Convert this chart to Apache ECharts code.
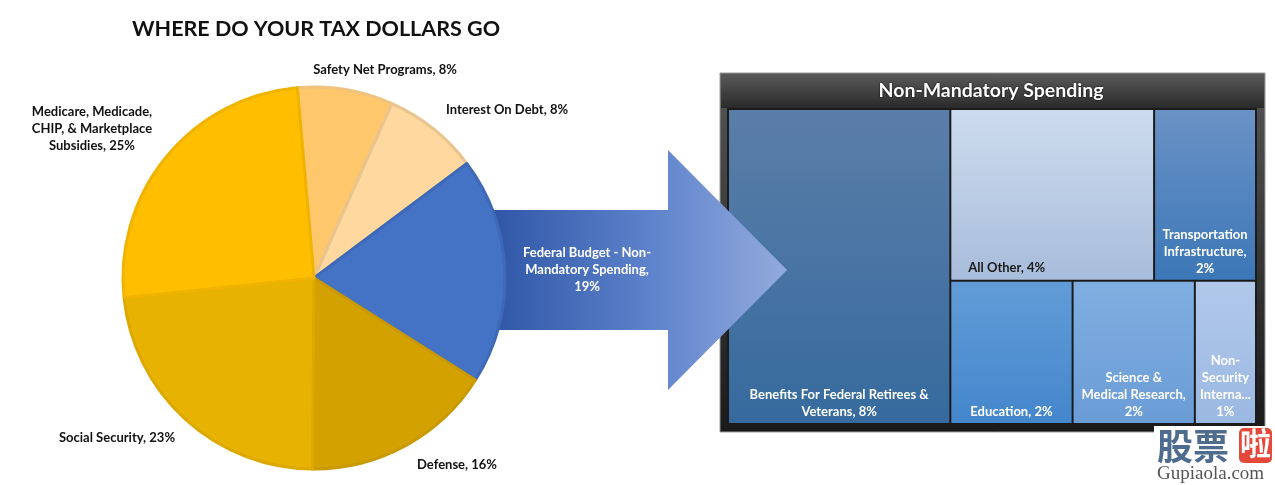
<!DOCTYPE html>
<html><head><meta charset="utf-8">
<script src="https://cdn.jsdelivr.net/npm/echarts@6/dist/echarts.min.js"></script>
<style>html,body{margin:0;padding:0;background:#fff}#c{width:1275px;height:485px}</style>
</head><body><div id="c"></div>
<script>
// ---- data ----
const pieCategories = ['Safety Net Programs', 'Interest On Debt', 'Federal Budget - Non-Mandatory Spending', 'Defense', 'Social Security', 'Medicare, Medicade, CHIP, & Marketplace Subsidies'];
const pieValues = [8, 8, 19, 16, 23, 25];
const pieLabelTexts = ['Safety Net Programs, 8%', 'Interest On Debt, 8%', 'Federal Budget - Non-\nMandatory Spending,\n19%', 'Defense, 16%', 'Social Security, 23%', 'Medicare, Medicade,\nCHIP, & Marketplace\nSubsidies, 25%'];
const treeCategories = ['Benefits For Federal Retirees & Veterans', 'All Other', 'Transportation Infrastructure', 'Education', 'Science & Medical Research', 'Non-Security International'];
const treeValues = [8, 4, 2, 2, 2, 1];
const treeLabelTexts = ['Benefits For Federal Retirees &\nVeterans, 8%', 'All Other, 4%', 'Transportation\nInfrastructure,\n2%', 'Education, 2%', 'Science &\nMedical Research,\n2%', 'Non-\nSecurity\nInterna...\n1%'];
const mainTitle = 'WHERE DO YOUR TAX DOLLARS GO';
const treeTitle = 'Non-Mandatory Spending';

// ---- styles ----
const FONT = "Lato, 'Noto Sans', sans-serif";
const pieColors = ['#FFC76B', '#FFD8A0', '#4472C4', '#D4A200', '#E8B300', '#FFBF00'];
const pieBorders = ['#EFC27E', '#EAC48E', '#3E69B6', '#C99A00', '#DDA900', '#F0B400'];
const pieLabelPos = [[385, 70], [507, 110], [587, 270], [457, 465], [117, 438], [92, 129]];
const pieLabelColor = ['#111', '#111', '#fff', '#111', '#111', '#111'];
const treeGrad = [['#5B7EA8', '#366A9E'], ['#CDDBEE', '#A8BDDB'], ['#6A92C6', '#3C77B7'], ['#619CD7', '#4486CC'], ['#80AEE1', '#6A9CD6'], ['#B1C8EA', '#9BB8E2']];
const treeLabelColor = ['#fff', '#1a1a1a', '#fff', '#fff', '#fff', '#fff'];

function vgrad(a, b) {
  return new echarts.graphic.LinearGradient(0, 0, 0, 1, [{offset: 0, color: a}, {offset: 1, color: b}]);
}

const chart = echarts.init(document.getElementById('c'), null, {renderer: 'canvas'});

const pieData = pieCategories.map((n, i) => ({
  name: n, value: pieValues[i],
  itemStyle: {color: pieColors[i], borderColor: pieBorders[i], borderWidth: 3},
  label: {color: pieLabelColor[i]}
}));

const treeData = treeCategories.map((n, i) => ({
  name: n, value: treeValues[i],
  itemStyle: {color: vgrad(treeGrad[i][0], treeGrad[i][1])},
  label: i === 1
    ? {position: 'insideBottomLeft', distance: 9, offset: [3, 10], align: 'left', color: treeLabelColor[i], formatter: () => treeLabelTexts[i]}
    : {color: treeLabelColor[i], formatter: () => treeLabelTexts[i]}
}));

chart.setOption({
  animation: false,
  title: {
    text: mainTitle, left: 311, top: 13, textAlign: 'center',
    textStyle: {fontFamily: FONT, fontSize: 21.5, fontWeight: 'bold', color: '#111'}
  },
  graphic: [
    { // arrow
      type: 'polygon', z: 5,
      shape: {points: [[490, 210], [668, 210], [668, 150], [787, 270], [668, 390], [668, 330], [490, 330]]},
      style: {fill: new echarts.graphic.LinearGradient(0, 0, 1, 0, [{offset: 0, color: '#2E56A6'}, {offset: 0.55, color: '#5F83CC'}, {offset: 1, color: '#93ABDD'}])}
    },
    { // treemap frame
      type: 'rect', z: -10,
      shape: {x: 720, y: 73, width: 545, height: 359},
      style: {fill: vgrad('#555555', '#1a1a1a'), stroke: '#9a9a9a', lineWidth: 1}
    },
    {
      type: 'rect', z: -9,
      shape: {x: 721, y: 74, width: 543, height: 34},
      style: {fill: vgrad('#5a5a5a', '#2a2a2a')}
    },
    {
      type: 'text', z: -8, x: 991, y: 81,
      style: {text: treeTitle, fill: '#fff', fontFamily: FONT, fontSize: 19.5, fontWeight: 'bold', textAlign: 'center', textVerticalAlign: 'top', textShadowColor: '#000', textShadowBlur: 2}
    },
    // watermark
    {type: 'rect', z: 100, shape: {x: 1154, y: 426, width: 121, height: 59}, style: {fill: '#fff'}},
    {type: 'text', z: 101, x: 1157, y: 428, style: {text: '股票', fill: '#4E6C8E', fontFamily: "'Noto Sans CJK SC'", fontSize: 36, fontWeight: 'bold'}},
    {type: 'rect', z: 101, shape: {x: 1239, y: 428, width: 33, height: 35, r: 5}, style: {fill: '#E4493A'}},
    {type: 'text', z: 102, x: 1240, y: 428, style: {text: '啦', fill: '#fff', fontFamily: "'Noto Sans CJK SC'", fontSize: 31, fontWeight: 'bold'}},
    {type: 'text', z: 101, x: 1157, y: 465, style: {text: 'Gupiaola.com', fill: '#555', fontFamily: "'Liberation Serif', serif", fontSize: 19}}
  ],
  series: [
    {
      type: 'pie', z: 10,
      center: [314, 278], radius: 191,
      startAngle: 95, clockwise: true,
      data: pieData,
      label: {
        show: true, position: 'outside', overflow: 'none',
        formatter: p => pieLabelTexts[p.dataIndex],
        fontFamily: FONT, fontSize: 13, fontWeight: 'bold', lineHeight: 17, align: 'center'
      },
      labelLine: {show: false},
      labelLayout: p => ({x: pieLabelPos[p.dataIndex][0], y: pieLabelPos[p.dataIndex][1], align: 'center', verticalAlign: 'middle'}),
      emphasis: {disabled: true}
    },
    {
      type: 'treemap', z: 2,
      left: 727, top: 108, width: 530, height: 317,
      squareRatio: 1, sort: false,
      roam: false, nodeClick: false,
      breadcrumb: {show: false},
      itemStyle: {borderColor: '#1b1b1b', borderWidth: 1, gapWidth: 0},
      label: {
        show: true, position: 'insideBottom', distance: 9, offset: [0, 11], overflow: 'none',
        fontFamily: FONT, fontSize: 13, fontWeight: 'bold', lineHeight: 17, align: 'center'
      },
      upperLabel: {show: false},
      data: treeData,
      emphasis: {disabled: true}
    }
  ]
});
</script>
</body></html>
